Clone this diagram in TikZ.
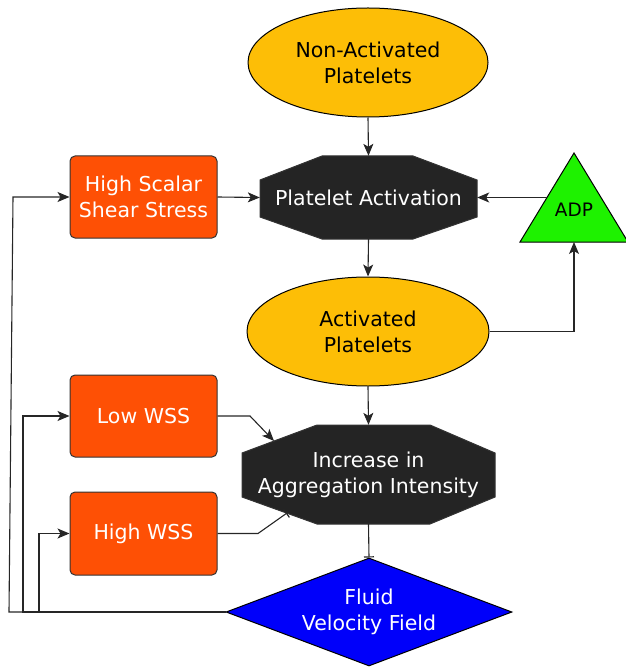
\documentclass[tikz,border=0pt]{standalone}
\usepackage{fontspec}
\setmainfont{DejaVu Sans}
\usetikzlibrary{arrows.meta,shapes.geometric,calc}
\definecolor{orangebox}{RGB}{254,80,5}
\definecolor{ellfill}{RGB}{253,190,6}
\definecolor{octfill}{RGB}{36,36,36}
\definecolor{trifill}{RGB}{30,242,0}
\definecolor{diafill}{RGB}{0,0,250}
\begin{document}
\begin{tikzpicture}[x=1pt,y=-1pt,
  every node/.style={font=\fontsize{20.5}{26}\selectfont, align=center, inner sep=0pt},
  line/.style={draw=black!85, line width=1.1pt},
  arr/.style={line, -{Stealth[length=12pt,width=10pt,inset=3pt]}},
  inh/.style={line, -{Bar[width=10pt,line width=1.2pt]}},
  oval/.style={ellipse, draw=black, line width=1pt, fill=ellfill, text=black, minimum width=240pt, minimum height=109pt},
  obox/.style={rectangle, rounded corners=5pt, draw=black!80, line width=1pt, fill=orangebox, text=white, minimum width=147pt, minimum height=82pt},
  octshape/.style={draw=black!80, line width=1pt, fill=octfill},
  octnode/.style={rectangle, text=white},
  trishape/.style={draw=black, line width=1pt, fill=trifill},
  dia/.style={diamond, draw=black, line width=1pt, fill=diafill, text=white, minimum width=286pt, minimum height=108pt, shape aspect=2.65}
]
\useasboundingbox (0,0) rectangle (625,668);

% shapes drawn directly
\filldraw[octshape] (322,156) -- (413,156) -- (477,180) -- (477,217) -- (413,239) -- (322,239) -- (260,217) -- (260,180) -- cycle;
\filldraw[octshape] (317,425) -- (430,425) -- (495,453) -- (495,497) -- (430,524) -- (317,524) -- (242,497) -- (242,453) -- cycle;
\filldraw[trishape] (574,153) -- (628,242) -- (520,242) -- cycle;

% nodes
\node[oval] (npl) at (368,62.5) {Non-Activated\\Platelets};
\node[octnode, minimum width=217pt, minimum height=83pt] (act) at (368.5,197.5) {Platelet Activation};
\node[obox] (hss) at (143.5,197) {High Scalar\\Shear Stress};
\node[font=\fontsize{18.5}{22}\selectfont, text=black] (adp) at (574,210) {ADP};
\node[oval, minimum width=242pt] (aplt) at (368,331.5) {Activated\\Platelets};
\node[obox] (lwss) at (143.5,416) {Low WSS};
\node[obox, minimum height=83pt] (hwss) at (143.5,533.5) {High WSS};
\node[octnode, minimum width=253pt, minimum height=99pt] (agg) at (368.5,474.5) {Increase in\\Aggregation Intensity};
\node[dia] (fvf) at (369,612) {Fluid\\Velocity Field};

% connector end points
\coordinate (adpL) at (547,197.5);
\coordinate (adpB) at (574,242);
\coordinate (aggUL) at (274,441);
\coordinate (aggLL) at (287,513);

% connectors
\draw[arr] (npl.south) -- (act.north);
\draw[arr] (hss.east) -- (act.west);
\draw[arr] (adpL) -- (act.east);
\draw[arr] (act.south) -- (aplt.north);
\draw[arr] (aplt.east) -| (adpB);
\draw[arr] (aplt.south) -- (agg.north);
\draw[arr] (lwss.east) -- (250,416) -- (aggUL);
\draw[inh] (hwss.east) -- (258,533.5) -- (aggLL);
\draw[inh] (agg.south) -- (fvf.north);
\draw[arr] (fvf.west) -- (9,612) -- (13,197) -- (hss.west);
\draw[arr] (fvf.west) -| (23,416) -- (lwss.west);
\draw[arr] (fvf.west) -| (39,533.5) -- (hwss.west);
\end{tikzpicture}
\end{document}
